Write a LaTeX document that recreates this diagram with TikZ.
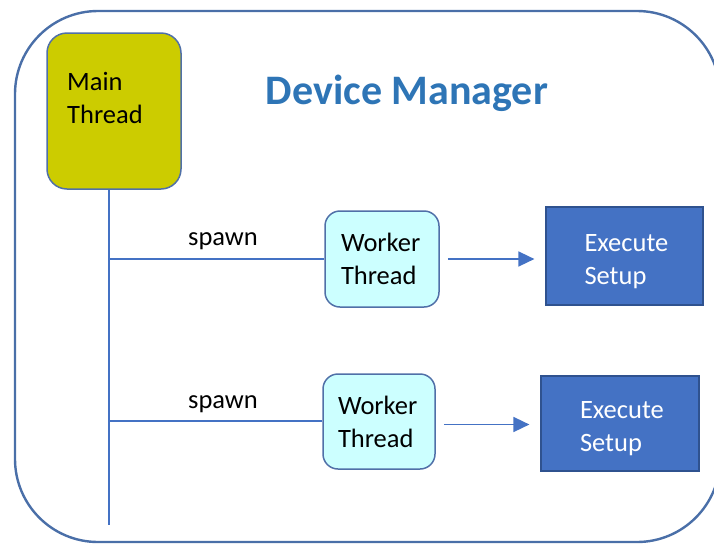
\documentclass[tikz,border=0pt]{standalone}
\usepackage{fontspec}
\setmainfont{Carlito}
\usetikzlibrary{arrows.meta}
\definecolor{outerc}{HTML}{4A6FA8}
\definecolor{mainfill}{HTML}{CCCC00}
\definecolor{boxedge}{HTML}{5070A8}
\definecolor{workfill}{HTML}{CCFFFF}
\definecolor{execfill}{HTML}{4472C4}
\definecolor{execedge}{HTML}{2F528F}
\definecolor{linec}{HTML}{4472C4}
\definecolor{titlec}{HTML}{2E75B6}
\tikzset{
  txt/.style={font=\fontsize{26.5}{33}\selectfont, align=left, inner sep=0pt},
  mainbox/.style={draw=boxedge, line width=1.5pt, fill=mainfill, rounded corners=20pt, inner sep=0pt},
  workbox/.style={draw=boxedge, line width=1.5pt, fill=workfill, rounded corners=15pt, inner sep=0pt, txt},
  execbox/.style={draw=execedge, line width=1.2pt, fill=execfill, inner sep=0pt, txt, text=white},
  conn/.style={draw=linec, line width=1.6pt},
  arr/.style={conn, -{Triangle[length=16pt,width=15pt]}},
}
\begin{document}
\begin{tikzpicture}[x=1pt,y=-1pt]
\useasboundingbox (0,0) rectangle (714,544);
\draw[outerc, line width=2.4pt, rounded corners=83pt] (15,11) rectangle (720,542);
% main thread
\node[mainbox, minimum width=134pt, minimum height=156pt] (main) at (114,111) {};
\node[txt, anchor=base west] (mainlbl) at (67,123) {Main\\Thread};
\node[font=\fontsize{42}{50}\selectfont\bfseries, text=titlec, inner sep=0pt] (title) at (407,93) {Device Manager};
% workers
\node[workbox, minimum width=114pt, minimum height=96pt, text width=82pt] (w1) at (382,259) {Worker\\Thread};
\node[workbox, minimum width=112pt, minimum height=95pt, text width=82pt] (w2) at (379,421.5) {Worker\\Thread};
% execute
\node[execbox, minimum width=157pt, minimum height=98pt, text width=80pt] (e1) at (624.5,256) {\rule{0pt}{27.6pt}Execute\\Setup};
\node[execbox, minimum width=158pt, minimum height=95pt, text width=80pt] (e2) at (620,423.5) {\rule{0pt}{27.6pt}Execute\\Setup};
% bus
\coordinate (busend) at (109,525);
\coordinate (b1) at (109,259);
\coordinate (b2) at (109,421);
\draw[conn] (main.south -| busend) -- (busend);
\draw[conn] (b1) -- (w1.west |- b1);
\draw[conn] (b2) -- (w2.west |- b2);
\node[txt, anchor=base] (s1) at (223,245) {spawn};
\node[txt, anchor=base] (s2) at (223,408) {spawn};
% arrows
\coordinate (a1) at ([xshift=8pt]w1.east);
\coordinate (a2) at ([xshift=8pt,yshift=-3pt]w2.east);
\draw[arr] (a1) -- ([xshift=-11pt]e1.west |- a1);
\draw[arr] (a2) -- ([xshift=-11pt]e2.west |- a2);
\end{tikzpicture}
\end{document}
